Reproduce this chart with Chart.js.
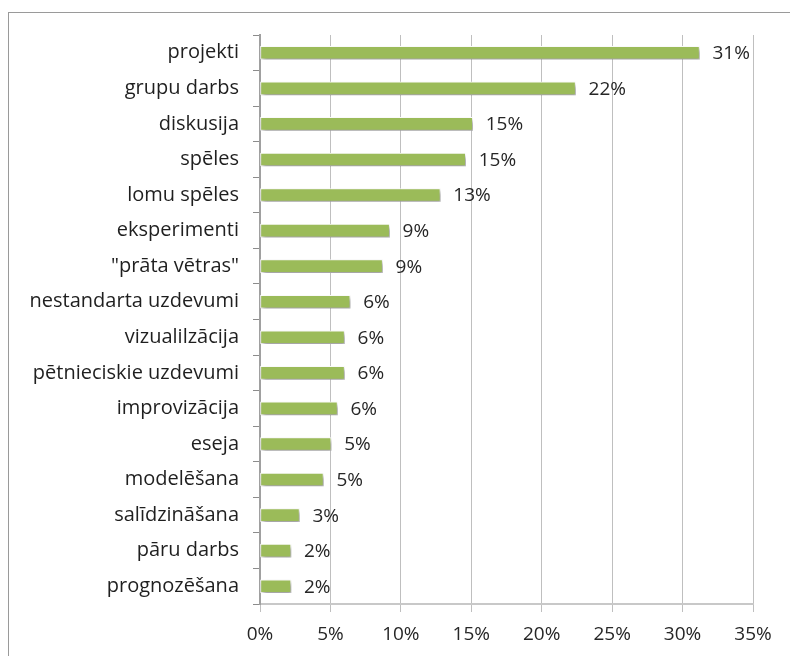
<!DOCTYPE html>
<html>
<head>
<meta charset="utf-8">
<script src="https://cdn.jsdelivr.net/npm/chart.js@4"></script>
<style>
html, body { margin: 0; padding: 0; background: #fff; }
#wrap { position: relative; width: 790px; height: 656px; overflow: hidden; }
#frame { position: absolute; left: 8px; top: 12px; width: 820px; height: 700px; border: 1px solid #9a9a9a; box-sizing: border-box; }
canvas { position: absolute; left: 0; top: 0; }
</style>
</head>
<body>
<div id="wrap">
<div id="frame"></div>
<canvas id="chart" width="790" height="656"></canvas>
</div>
<script>
// kategorijas
const labels = ["projekti", "grupu darbs", "diskusija", "spēles", "lomu spēles", "eksperimenti",
  "\"prāta vētras\"", "nestandarta uzdevumi", "vizualilzācija", "pētnieciskie uzdevumi",
  "improvizācija", "eseja", "modelēšana", "salīdzināšana", "pāru darbs", "prognozēšana"];

// vērtības (%)
const values = [31.2, 22.4, 15.1, 14.6, 12.8, 9.2, 8.7, 6.4, 6.0, 6.0, 5.5, 5.05, 4.5, 2.8, 2.2, 2.2];

// x ass
const xTicks = [0, 5, 10, 15, 20, 25, 30, 35];

const fontFamily = "'Open Sans', Lato, sans-serif";

// ēna zem stabiņiem
const shadowPlugin = {
  id: "shadow",
  beforeDatasetsDraw(chart) {
    const ctx = chart.ctx;
    ctx.save();
    ctx.shadowColor = "rgba(0,0,0,0.4)";
    ctx.shadowBlur = 4;
    ctx.shadowOffsetX = 2;
    ctx.shadowOffsetY = 3;
  },
  afterDatasetsDraw(chart) {
    chart.ctx.restore();
  }
};

// procentu uzraksti
const valueLabels = {
  id: "valueLabels",
  afterDatasetsDraw(chart) {
    const ctx = chart.ctx;
    const meta = chart.getDatasetMeta(0);
    ctx.save();
    ctx.font = "19px " + fontFamily;
    ctx.fillStyle = "#262626";
    ctx.textAlign = "left";
    ctx.textBaseline = "middle";
    meta.data.forEach((bar, i) => {
      ctx.fillText(Math.round(values[i]) + "%", bar.x + 13, bar.y + 1);
    });
    ctx.restore();
  }
};

new Chart(document.getElementById("chart"), {
  type: "bar",
  data: {
    labels: labels,
    datasets: [{
      data: values,
      backgroundColor: "#9bbb59",
      borderColor: "#ffffff",
      borderWidth: 1,
      borderSkipped: false,
      barThickness: 13
    }]
  },
  options: {
    indexAxis: "y",
    responsive: false,
    animation: false,
    layout: { padding: { top: 35, right: 37, bottom: 0, left: 0 } },
    plugins: {
      legend: { display: false },
      tooltip: { enabled: false }
    },
    scales: {
      x: {
        min: 0,
        max: 35,
        afterBuildTicks(scale) {
          scale.ticks = xTicks.map(v => ({ value: v }));
        },
        afterFit(scale) { scale.height = 52; },
        grid: { color: "#bfbfbf", lineWidth: 1, tickLength: 8 },
        border: { color: "#c8c8c8", width: 2 },
        ticks: {
          padding: 11,
          color: "#262626",
          font: { family: fontFamily, size: 19 },
          callback: v => v + "%"
        }
      },
      y: {
        afterFit(scale) { scale.width = 260; },
        grid: { drawOnChartArea: false, offset: true, tickLength: 7, color: "#8c8c8c" },
        border: { color: "#a0a0a0", width: 2 },
        ticks: {
          padding: 14,
          color: "#1f1f1f",
          font: { family: fontFamily, size: 20 }
        }
      }
    }
  },
  plugins: [shadowPlugin, valueLabels]
});
</script>
</body>
</html>
